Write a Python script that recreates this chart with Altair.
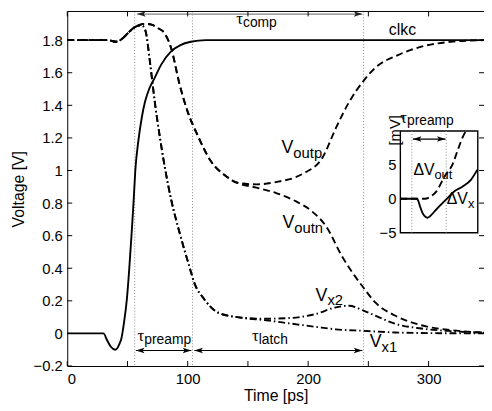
import altair as alt
import pandas as pd

# ---------------- values ----------------
# axis ticks
x_labels = [0, 100, 200, 300]
x_minor = [0, 50, 100, 150, 200, 250, 300]
y_labels = [-0.2, 0, 0.2, 0.4, 0.6, 0.8, 1.0, 1.2, 1.4, 1.6, 1.8]

# clkc (solid)
clkc_t = [0, 30, 33, 36, 40, 43, 45, 47, 49.5, 51.5, 53.5, 55, 56.5, 59, 62, 64.5, 68, 72.7, 78, 86, 94, 102.6, 115, 130, 346]
clkc_v = [0, 0, -0.04, -0.08, -0.1, -0.07, -0.03, 0.06, 0.21, 0.4, 0.62, 0.8, 1.0, 1.18, 1.33, 1.42, 1.5, 1.57, 1.65, 1.73, 1.77, 1.79, 1.8, 1.8, 1.8]

# common part of Voutp / Voutn (dashed)
vout_t = [0, 34, 40, 45, 50, 55, 60, 64.5, 70, 75, 81, 86.3, 93.2, 100, 108, 119, 132.8, 141]
vout_v = [1.8, 1.8, 1.79, 1.805, 1.84, 1.875, 1.893, 1.9, 1.895, 1.875, 1.84, 1.75, 1.53, 1.36, 1.22, 1.06, 0.96, 0.925]
voutp_t = [157, 174, 195.6, 212, 223, 234, 246, 255.7, 275, 294, 318.6, 346]
voutp_v = [0.915, 0.93, 0.98, 1.08, 1.26, 1.42, 1.55, 1.63, 1.71, 1.76, 1.79, 1.8]
voutn_t = [157, 174, 190, 203, 215, 228, 239, 246, 255.7, 272, 294, 318.6, 346]
voutn_v = [0.895, 0.86, 0.81, 0.75, 0.656, 0.475, 0.35, 0.28, 0.19, 0.11, 0.05, 0.02, 0.005]

# common part of Vx1 / Vx2 (dash-dot)
vx_t = [0, 34, 40, 45, 50, 55, 60, 63, 65.5, 68.6, 72.7, 77, 81, 86.3, 93.2, 101.4, 105.5, 113.7, 124.6, 141]
vx_v = [1.8, 1.8, 1.79, 1.805, 1.84, 1.875, 1.89, 1.885, 1.84, 1.67, 1.42, 1.2, 1.02, 0.82, 0.62, 0.41, 0.31, 0.21, 0.13, 0.10]
vx2_t = [165, 186, 206.6, 223, 234, 246, 258.5, 272, 294, 318.6, 346]
vx2_v = [0.09, 0.095, 0.12, 0.16, 0.17, 0.14, 0.10, 0.06, 0.03, 0.014, 0.005]
vx1_t = [165.6, 186, 206.6, 223, 246, 272, 300, 346]
vx1_v = [0.08, 0.06, 0.04, 0.025, 0.016, 0.006, 0.002, 0]

# cursors and arrows
cursor_t = [56, 104, 246]
arrow_t0 = [58, 57, 105.5]
arrow_t1 = [245, 103, 245]
arrow_v = [1.96, -0.105, -0.105]
arrow_col = ["#808080", "black", "black"]

# labels
vlab_t = [187.7, 188.5, 216, 261]
vlab_v = [1.109, 0.647, 0.202, -0.081]
vlab_sub = ["outp", "outn", "x2", "x1"]
tau_t = [145.9, 64, 159]
tau_v = [1.897, -0.048, -0.048]
tau_sub = ["comp", "preamp", "latch"]

# inset (mV)
dvx_t = [40, 63, 65, 67.4, 72, 75.5, 78, 81, 90.3, 104, 115.4, 127, 138.4, 147.5]
dvx_v = [0, 0, -0.3, -1.1, -2.3, -2.7, -2.8, -2.6, -1.55, -0.1, 1.1, 1.8, 2.8, 4.3]
dvout_t = [40, 67, 74.3, 82, 90.3, 101.7, 113.3, 120.1, 127, 131.5]
dvout_v = [0, 0, 0, 0.3, 1.1, 3.3, 5.2, 7.2, 9.1, 10]
inset_t = [40, 148]
inset_v = [-5, 10]
inset_ticks = [-5, 0, 5]
inset_cursor_t = [56, 104]
inset_arrow = [57.5, 103]
inset_arrow_v = 8.8

# ---------------- chart ----------------
FONT = "Liberation Sans"
SERIF = "Liberation Serif"
W, H = 422, 359
ARROW = "M0,0L-1,-0.32L-0.78,0L-1,0.32Z"
LW = 1.9

X_main = alt.X("t:Q", scale=alt.Scale(domain=[0, 346], nice=False, zero=False),
               axis=alt.Axis(values=x_labels, format="d", title="Time [ps]", ticks=False, grid=False,
                             labelPadding=6, titlePadding=1))
Y_main = alt.Y("v:Q", scale=alt.Scale(domain=[-0.2, 1.976], nice=False, zero=False),
               axis=alt.Axis(values=y_labels, format="~g", title="Voltage [V]", ticks=False, grid=False,
                             labelPadding=5, titlePadding=7))


def df(t, v, **extra):
    d = pd.DataFrame({"t": t, "v": v})
    for k, val in extra.items():
        d[k] = val
    return d


def line(d, dash=None):
    kw = dict(color="black", strokeWidth=LW, interpolate="monotone")
    if dash:
        kw["strokeDash"] = dash
    return alt.Chart(d).mark_line(**kw).encode(x=X_main, y=Y_main)


DASH = [7, 4]
DASHDOT = [7, 3, 1.5, 3]

voutp = df(vout_t + voutp_t, vout_v + voutp_v)
voutn = df(vout_t + voutn_t, vout_v + voutn_v)
vx1 = df(vx_t + vx1_t, vx_v + vx1_v)
vx2 = df(vx_t + vx2_t, vx_v + vx2_v)
clkc = df(clkc_t, clkc_v)

cursors = alt.Chart(pd.DataFrame({"t": cursor_t})).mark_rule(
    color="#8a8a8a", strokeDash=[1, 2], strokeWidth=1).encode(x=X_main)

arrows = pd.DataFrame({"t": arrow_t0, "t1": arrow_t1, "v": arrow_v, "c": arrow_col})
shafts = alt.Chart(arrows).mark_rule(strokeWidth=1.2).encode(
    x=X_main, x2="t1:Q", y=Y_main, color=alt.Color("c:N", scale=None))
heads_df = pd.DataFrame({
    "t": arrow_t0 + arrow_t1,
    "v": arrow_v + arrow_v,
    "ang": [180] * len(arrow_t0) + [0] * len(arrow_t1),
    "c": ["#222222" if c != "black" else "black" for c in arrow_col] * 2,
})
heads = alt.Chart(heads_df).mark_point(shape=ARROW, filled=True, size=300, opacity=1, strokeWidth=0).encode(
    x=X_main, y=Y_main, angle=alt.Angle("ang:Q", scale=None), color=alt.Color("c:N", scale=None))

vlab = pd.DataFrame({"t": vlab_t, "v": vlab_v, "m": "V", "s": vlab_sub})
vmain = alt.Chart(vlab).mark_text(align="right", baseline="alphabetic", font=FONT, fontSize=18, color="black").encode(
    x=X_main, y=Y_main, text="m:N")
vsub = alt.Chart(vlab).mark_text(align="left", baseline="alphabetic", font=FONT, fontSize=15, dy=5, color="black").encode(
    x=X_main, y=Y_main, text="s:N")

taulab = pd.DataFrame({"t": tau_t, "v": tau_v, "m": "τ", "s": tau_sub})
taumain = alt.Chart(taulab).mark_text(align="right", baseline="alphabetic", font=SERIF, fontSize=17, color="black").encode(
    x=X_main, y=Y_main, text="m:N")
tausub = alt.Chart(taulab).mark_text(align="left", baseline="alphabetic", font=FONT, fontSize=14, dy=3, color="black").encode(
    x=X_main, y=Y_main, text="s:N")

clk_lab = alt.Chart(pd.DataFrame({"t": [278.3], "v": [1.83], "m": ["clkc"]})).mark_text(
    align="center", baseline="alphabetic", font=FONT, fontSize=16, color="black").encode(x=X_main, y=Y_main, text="m:N")

xt = pd.DataFrame({"t": x_minor})
yt = pd.DataFrame({"v": y_labels})
tick_b = alt.Chart(xt).mark_rule(color="black").encode(x=X_main, y=alt.value(H), y2=alt.value(H - 5))
tick_t = alt.Chart(xt).mark_rule(color="black").encode(x=X_main, y=alt.value(0), y2=alt.value(5))
tick_l = alt.Chart(yt).mark_rule(color="black").encode(y=Y_main, x=alt.value(0), x2=alt.value(5))
tick_r = alt.Chart(yt).mark_rule(color="black").encode(y=Y_main, x=alt.value(W), x2=alt.value(W - 5))
top_frame = alt.Chart(pd.DataFrame({"t": [0]})).mark_rule(color="black", strokeWidth=1).encode(
    x=alt.value(0), x2=alt.value(W), y=alt.value(0))

main = alt.layer(
    cursors,
    line(voutp, DASH), line(voutn, DASH),
    line(vx1, DASHDOT), line(vx2, DASHDOT),
    line(clkc),
    shafts, heads,
    vmain, vsub, taumain, tausub, clk_lab,
    tick_b, tick_t, tick_l, tick_r, top_frame,
)

# ---------------- inset ----------------
X_in = alt.X("t:Q", scale=alt.Scale(domain=inset_t, range=[337.3, 415.7], nice=False, zero=False), axis=None)
Y_in = alt.Y("v:Q", scale=alt.Scale(domain=inset_v, range=[224, 121], nice=False, zero=False), axis=None)

frame = alt.Chart(pd.DataFrame({"t": [inset_t[0]], "t2": [inset_t[1]], "v": [inset_v[0]], "v2": [inset_v[1]]})).mark_rect(
    fill="white", stroke="black", strokeWidth=1.4).encode(x=X_in, x2="t2:Q", y=Y_in, y2="v2:Q")
in_cursor = alt.Chart(pd.DataFrame({"t": inset_cursor_t, "v": inset_v[0], "v2": inset_v[1]})).mark_rule(
    color="#8a8a8a", strokeDash=[1, 2], strokeWidth=1).encode(x=X_in, y=Y_in, y2="v2:Q")
in_out = alt.Chart(df(dvout_t, dvout_v)).mark_line(color="black", strokeWidth=LW, strokeDash=DASH,
                                                    interpolate="monotone").encode(x=X_in, y=Y_in)
in_x = alt.Chart(df(dvx_t, dvx_v)).mark_line(color="black", strokeWidth=LW,
                                             interpolate="monotone").encode(x=X_in, y=Y_in)
in_shaft = alt.Chart(pd.DataFrame({"t": [inset_arrow[0]], "t1": [inset_arrow[1]], "v": [inset_arrow_v]})).mark_rule(
    color="black", strokeWidth=1.2).encode(x=X_in, x2="t1:Q", y=Y_in)
in_heads = alt.Chart(pd.DataFrame({"t": inset_arrow, "v": [inset_arrow_v] * 2, "ang": [180, 0]})).mark_point(
    shape=ARROW, filled=True, size=300, opacity=1, strokeWidth=0, color="black").encode(
    x=X_in, y=Y_in, angle=alt.Angle("ang:Q", scale=None))
in_ticklab = alt.Chart(pd.DataFrame({"t": inset_t[0], "v": inset_ticks})).mark_text(
    align="right", baseline="middle", dx=-4, font=FONT, fontSize=15, color="black").encode(
    x=X_in, y=Y_in, text=alt.Text("v:Q", format="~g"))
in_unit = alt.Chart(pd.DataFrame({"t": [32.7], "v": [10.1], "m": ["[mV]"]})).mark_text(
    align="center", baseline="middle", angle=270, font=FONT, fontSize=15, color="black").encode(
    x=X_in, y=Y_in, text="m:N")
in_tau = pd.DataFrame({"t": [49.2], "v": [11.2], "m": ["τ"], "s": ["preamp"]})
in_tau_m = alt.Chart(in_tau).mark_text(align="right", baseline="alphabetic", font=SERIF, fontSize=17, color="black").encode(
    x=X_in, y=Y_in, text="m:N")
in_tau_s = alt.Chart(in_tau).mark_text(align="left", baseline="alphabetic", font=FONT, fontSize=14, dy=2, color="black").encode(
    x=X_in, y=Y_in, text="s:N")
dlab = pd.DataFrame({"t": [87.6, 134.2], "v": [3.54, -0.83], "m": ["ΔV", "ΔV"], "s": ["out", "x"]})
dlab_m = alt.Chart(dlab).mark_text(align="right", baseline="alphabetic", font=FONT, fontSize=16, color="black").encode(
    x=X_in, y=Y_in, text="m:N")
dlab_s = alt.Chart(dlab).mark_text(align="left", baseline="alphabetic", font=FONT, fontSize=13, dy=4, color="black").encode(
    x=X_in, y=Y_in, text="s:N")

inset = alt.layer(frame, in_cursor, in_out, in_x, in_shaft, in_heads, in_ticklab, in_unit,
                  in_tau_m, in_tau_s, dlab_m, dlab_s)

chart = alt.layer(main, inset).resolve_scale(x="independent", y="independent").properties(
    width=W, height=H,
    padding={"left": 60, "top": 1, "right": 0, "bottom": 40},
    autosize=alt.AutoSizeParams(type="none"),
).configure_view(stroke=None).configure_axis(
    labelFont=FONT, titleFont=FONT, labelFontSize=15, titleFontSize=16,
    labelColor="black", titleColor="black", titleFontWeight="normal",
    domainColor="black", domainWidth=1,
)

chart.save("out.html", embed_options={"renderer": "svg", "actions": False})
